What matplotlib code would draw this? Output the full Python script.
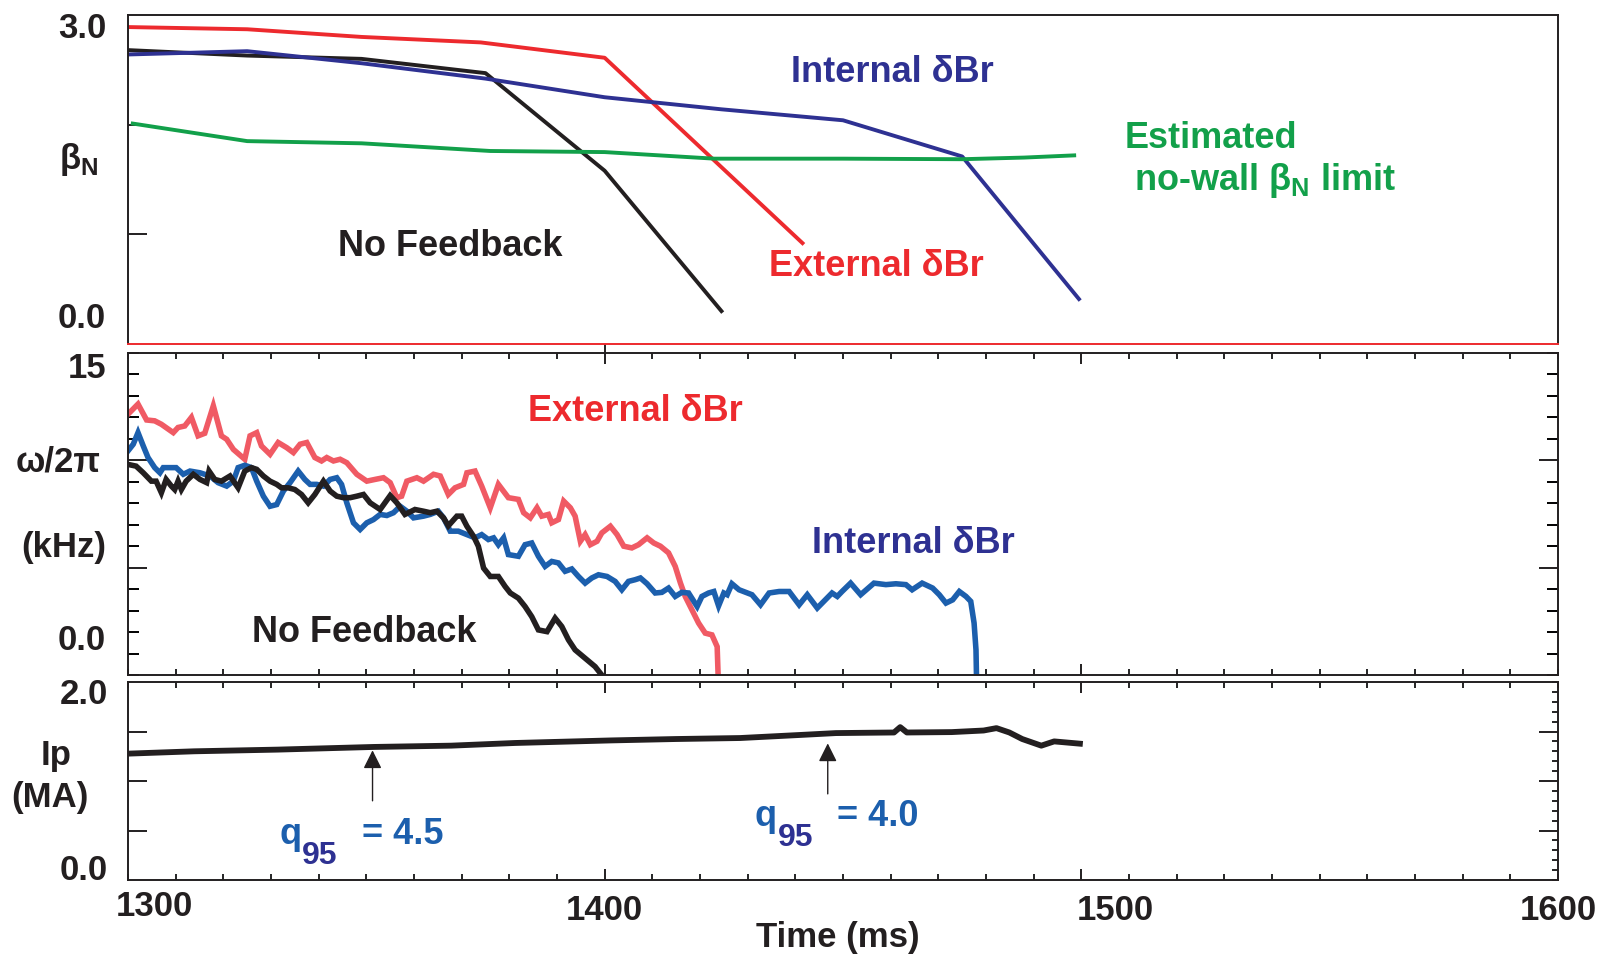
import matplotlib
matplotlib.use("Agg")
import matplotlib.pyplot as plt
from matplotlib import font_manager
from matplotlib.ticker import MultipleLocator

# ── font: condensed bold sans ────────────────────────────────────────────────
installed = {f.name for f in font_manager.fontManager.ttflist}
FONT = "Liberation Sans Narrow" if "Liberation Sans Narrow" in installed else "Liberation Sans"
plt.rcParams["font.family"] = [FONT, "DejaVu Sans"]
plt.rcParams["font.weight"] = "bold"

W, H = 1602, 960
FS_NOTE = 26   # annotations inside the panels
FS_TICK = 25   # numbers and axis labels

# ── colours ──────────────────────────────────────────────────────────────────
C_RED = "#ed2a2e"
C_BLUE = "#2e3192"
C_GREEN = "#12a04a"
C_BLACK = "#231f20"
C_PINK = "#f05a64"
C_MBLUE = "#1c5fad"

# ── panel 1: beta_N ──────────────────────────────────────────────────────────
t_beta_ext = [1300, 1325, 1349, 1374, 1400, 1441.5]
beta_ext = [2.89, 2.87, 2.80, 2.75, 2.61, 0.92]
t_beta_nofb = [1300, 1325, 1349, 1375, 1400, 1424.5]
beta_nofb = [2.68, 2.63, 2.60, 2.47, 1.58, 0.30]
t_beta_int = [1300, 1325, 1349, 1375, 1400, 1424.5, 1450, 1475, 1499.5]
beta_int = [2.64, 2.67, 2.56, 2.42, 2.25, 2.14, 2.04, 1.71, 0.41]
t_limit = [1301, 1325, 1349, 1376, 1400, 1423, 1450, 1475, 1488, 1498.5]
beta_limit = [2.01, 1.85, 1.83, 1.76, 1.75, 1.69, 1.69, 1.685, 1.70, 1.72]

# ── panel 2: rotation frequency (kHz) ───────────────────────────────────────
t_f_ext = [1300.0, 1302.1, 1303.9, 1305.6, 1307.0, 1309.5, 1310.5, 1311.9, 1313.3, 1314.7,
           1316.1, 1317.9, 1319.6, 1320.7, 1322.1, 1324.5, 1325.6, 1327.0, 1328.0, 1329.8,
           1331.5, 1333.3, 1334.7, 1336.1, 1337.5, 1339.2, 1340.6, 1341.7, 1343.1, 1344.5,
           1345.9, 1348.0, 1350.1, 1351.8, 1353.6, 1355.0, 1356.4, 1357.4, 1358.5, 1360.6,
           1362.0, 1364.1, 1365.5, 1367.2, 1368.6, 1370.4, 1371.1, 1372.8, 1374.2, 1376.0,
           1377.7, 1379.8, 1381.9, 1383.0, 1384.4, 1385.8, 1386.8, 1388.2, 1388.9, 1390.3,
           1391.4, 1392.8, 1393.8, 1394.9, 1395.9, 1397.0, 1398.4, 1399.4, 1401.2, 1402.6,
           1404.0, 1405.7, 1407.1, 1408.9, 1410.3, 1411.7, 1413.4, 1414.8, 1415.9, 1416.9,
           1418.3, 1419.7, 1421.1, 1422.5, 1423.6, 1423.8]
f_ext = [12.15, 12.62, 11.88, 11.84, 11.68, 11.29, 11.53, 11.60, 12.00, 11.14,
         11.26, 12.54, 11.14, 10.98, 10.51, 10.05, 11.14, 11.29, 10.67, 10.28,
         10.83, 10.59, 10.36, 10.75, 10.83, 10.13, 9.97, 10.13, 9.97, 10.05,
         9.89, 9.35, 9.03, 9.11, 9.19, 8.96, 8.26, 8.33, 9.03, 9.19,
         9.03, 9.35, 9.27, 8.41, 8.72, 8.88, 9.42, 9.50, 8.80, 7.79,
         8.88, 8.26, 8.18, 7.56, 7.32, 7.79, 7.40, 7.48, 7.09, 7.24,
         8.10, 7.79, 7.40, 6.23, 6.54, 6.07, 6.23, 6.62, 6.93, 6.54,
         6.00, 5.92, 6.07, 6.39, 6.15, 6.00, 5.69, 5.06, 4.28, 3.66,
         3.04, 2.42, 1.95, 1.87, 1.32, 0.0]

t_f_int = [1300.0, 1301.1, 1302.1, 1303.2, 1304.2, 1305.6, 1306.7, 1307.4, 1310.1, 1311.6,
           1313.0, 1315.1, 1317.2, 1318.9, 1320.7, 1322.1, 1323.1, 1324.5, 1325.9, 1327.0,
           1328.4, 1329.8, 1331.2, 1332.6, 1334.0, 1335.7, 1337.1, 1338.2, 1339.6, 1341.0,
           1342.4, 1343.8, 1344.8, 1345.9, 1347.3, 1348.7, 1350.1, 1351.5, 1352.9, 1354.3,
           1355.7, 1357.1, 1358.5, 1359.9, 1362.0, 1363.4, 1365.1, 1366.2, 1367.6, 1369.3,
           1371.1, 1372.8, 1374.2, 1375.6, 1376.7, 1377.7, 1378.8, 1379.8, 1381.9, 1383.3,
           1384.7, 1386.1, 1387.5, 1388.9, 1390.3, 1391.7, 1393.1, 1394.5, 1395.9, 1397.3,
           1398.7, 1400.5, 1402.2, 1403.6, 1405.0, 1406.4, 1407.5, 1408.9, 1410.6, 1412.0,
           1413.4, 1414.8, 1416.2, 1417.6, 1419.4, 1420.4, 1421.8, 1422.9, 1423.9, 1425.0,
           1425.7, 1426.7, 1428.2, 1430.9, 1432.7, 1434.5, 1436.6, 1438.7, 1440.8, 1442.5,
           1444.6, 1447.7, 1448.8, 1449.8, 1451.6, 1453.7, 1456.5, 1459.0, 1461.1, 1463.2,
           1464.5, 1466.6, 1468.8, 1470.2, 1471.6, 1473.0, 1474.4, 1475.8, 1476.8, 1477.5,
           1477.9, 1478.0]
f_int = [10.44, 10.75, 11.29, 10.67, 10.13, 9.66, 9.42, 9.66, 9.66, 9.35,
         9.50, 9.42, 9.27, 8.96, 8.80, 9.03, 9.66, 9.77, 9.66, 9.03,
         8.33, 7.86, 7.94, 8.57, 8.96, 9.50, 9.11, 8.88, 8.88, 8.80,
         9.11, 9.19, 8.88, 8.02, 7.09, 6.78, 7.09, 7.24, 7.48, 7.43,
         7.56, 7.86, 7.63, 7.32, 7.40, 7.48, 7.63, 7.32, 6.70, 6.70,
         6.54, 6.39, 6.54, 6.31, 6.39, 6.07, 6.39, 5.61, 5.53, 6.07,
         6.15, 5.53, 5.06, 5.29, 5.22, 4.83, 4.94, 4.59, 4.28, 4.52,
         4.67, 4.59, 4.36, 3.97, 4.36, 4.44, 4.52, 4.25, 3.82, 3.85,
         4.05, 3.66, 3.85, 3.82, 3.19, 3.66, 3.82, 3.89, 3.22, 3.82,
         3.74, 4.25, 3.97, 3.74, 3.27, 3.82, 3.89, 3.89, 3.27, 3.74,
         3.12, 3.82, 3.66, 3.89, 4.28, 3.74, 4.28, 4.21, 4.25, 4.21,
         3.97, 4.28, 4.05, 3.74, 3.35, 3.50, 3.89, 3.66, 3.43, 2.42,
         1.17, 0.0]

t_f_nofb = [1300.0, 1301.7, 1303.2, 1304.9, 1305.9, 1307.0, 1308.0, 1309.1, 1309.8, 1310.5,
            1311.2, 1312.2, 1313.7, 1315.1, 1316.5, 1317.0, 1318.2, 1319.6, 1321.4, 1323.1,
            1324.5, 1325.9, 1327.0, 1328.4, 1329.8, 1331.2, 1332.2, 1333.6, 1335.0, 1336.4,
            1337.8, 1339.2, 1341.0, 1342.4, 1343.8, 1345.2, 1346.6, 1348.0, 1349.4, 1350.8,
            1352.9, 1355.0, 1356.4, 1358.1, 1360.2, 1362.0, 1363.4, 1364.8, 1366.2, 1367.2,
            1369.0, 1370.0, 1371.1, 1372.5, 1373.5, 1374.6, 1376.0, 1377.7, 1379.1, 1380.2,
            1381.9, 1383.3, 1384.7, 1386.1, 1387.9, 1389.6, 1391.0, 1392.4, 1393.8, 1395.9,
            1398.0, 1399.1]
f_nofb = [9.81, 9.73, 9.42, 9.03, 9.03, 8.49, 9.11, 8.80, 8.64, 9.03,
          8.64, 9.03, 9.35, 9.11, 8.96, 9.50, 9.11, 9.03, 9.27, 8.72,
          9.50, 9.66, 9.58, 9.27, 9.03, 8.88, 8.72, 8.72, 8.64, 8.41,
          8.02, 8.41, 9.03, 8.57, 8.33, 8.26, 8.26, 8.33, 8.41, 8.02,
          7.71, 8.36, 8.02, 7.48, 7.71, 7.63, 7.56, 7.63, 7.32, 6.95,
          7.40, 7.40, 6.93, 6.46, 6.00, 4.98, 4.59, 4.59, 4.13, 3.82,
          3.58, 3.19, 2.72, 2.10, 2.02, 2.65, 2.26, 1.64, 1.17, 0.78,
          0.39, 0.08]

# ── panel 3: plasma current (MA) ────────────────────────────────────────────
t_ip = [1300.4, 1313.9, 1331.4, 1351.6, 1367.8, 1381.2, 1401.4, 1414.9, 1428.4, 1441.8,
        1448.5, 1460.7, 1462.0, 1463.4, 1472.8, 1479.5, 1482.2, 1484.9, 1487.6, 1491.6,
        1494.3, 1499.7]
ip = [1.277, 1.300, 1.317, 1.344, 1.357, 1.384, 1.410, 1.424, 1.434, 1.467,
      1.484, 1.490, 1.544, 1.490, 1.494, 1.510, 1.534, 1.490, 1.424, 1.357,
      1.400, 1.377]

# q95 markers: arrow time, tail, tip; label start time and height
q95_t = [1351.3, 1446.8]
q95_tail = [0.80, 0.87]
q95_tip = [1.31, 1.38]
q95_label_t = [1331.7, 1431.5]
q95_label_y = [0.46, 0.64]
q95_val = ["= 4.5", "= 4.0"]

# ── figure ───────────────────────────────────────────────────────────────────
fig = plt.figure(figsize=(W / 100, H / 100), dpi=100)


def frac(x0, y0, x1, y1):
    return [x0 / W, 1 - y1 / H, (x1 - x0) / W, (y1 - y0) / H]


def px(x, y):
    return x / W, 1 - y / H


ax1 = fig.add_axes(frac(128, 15, 1558, 344))
ax2 = fig.add_axes(frac(128, 353, 1558, 675))
ax3 = fig.add_axes(frac(128, 682, 1558, 880))

for ax in (ax1, ax2, ax3):
    ax.set_xlim(1300, 1600)
    for sp in ax.spines.values():
        sp.set_linewidth(1.4)
        sp.set_color(C_BLACK)
    ax.tick_params(labelleft=False, labelbottom=False, colors=C_BLACK, width=1.4)

# panel 1
ax1.set_ylim(0, 3)
ax1.spines["bottom"].set_color(C_RED)
ax1.plot(t_beta_ext, beta_ext, color=C_RED, lw=2.8)
ax1.plot(t_beta_nofb, beta_nofb, color=C_BLACK, lw=2.8)
ax1.plot(t_beta_int, beta_int, color=C_BLUE, lw=2.8)
ax1.plot(t_limit, beta_limit, color=C_GREEN, lw=2.8)
ax1.set_yticks([1, 2])
ax1.tick_params(axis="y", direction="in", length=14)
ax1.set_xticks([1400])
ax1.tick_params(axis="x", direction="out", length=8)

ax1.text(1439, 2.48, "Internal δBr", color=C_BLUE, fontsize=FS_NOTE, va="center")
ax1.text(1509, 1.87, "Estimated", color=C_GREEN, fontsize=FS_NOTE, va="center")
ax1.text(1511, 1.49, "no-wall β$_\\mathregular{N}$ limit", color=C_GREEN, fontsize=FS_NOTE, va="center")
ax1.text(1344, 0.89, "No Feedback", color=C_BLACK, fontsize=FS_NOTE, va="center")
ax1.text(1434.5, 0.71, "External δBr", color=C_RED, fontsize=FS_NOTE, va="center")

# panel 2
ax2.set_ylim(0, 15)
ax2.plot(t_f_ext, f_ext, color=C_PINK, lw=4.0, solid_joinstyle="miter")
ax2.plot(t_f_int, f_int, color=C_MBLUE, lw=4.0, solid_joinstyle="miter")
ax2.plot(t_f_nofb, f_nofb, color=C_BLACK, lw=4.0, solid_joinstyle="miter")
ax2.set_yticks([5, 10])
ax2.yaxis.set_minor_locator(MultipleLocator(1))
ax2.set_xticks([1400, 1500])
ax2.xaxis.set_minor_locator(MultipleLocator(10))
ax2.tick_params(which="both", direction="in", left=True, right=True, top=True, bottom=True)
ax2.tick_params(axis="y", which="major", length=14)
ax2.tick_params(axis="y", which="minor", length=8, width=1.4)
ax2.tick_params(axis="x", which="major", length=8)
ax2.tick_params(axis="x", which="minor", length=4, width=1.2)

ax2.text(1384, 12.29, "External δBr", color=C_RED, fontsize=FS_NOTE, va="center")
ax2.text(1443.5, 6.12, "Internal δBr", color=C_BLUE, fontsize=FS_NOTE, va="center")
ax2.text(1326, 1.96, "No Feedback", color=C_BLACK, fontsize=FS_NOTE, va="center")

# panel 3
ax3.set_ylim(0, 2)
ax3.plot(t_ip, ip, color=C_BLACK, lw=4.2)
ax3.set_yticks([0.5, 1.0, 1.5])
ax3.yaxis.set_minor_locator(MultipleLocator(0.1))
ax3.set_xticks([1400, 1500])
ax3.xaxis.set_minor_locator(MultipleLocator(10))
ax3.tick_params(which="both", direction="in", top=True, bottom=True, right=True)
ax3.tick_params(axis="y", which="major", length=14)
ax3.tick_params(axis="y", which="minor", left=False, length=4, width=1.2)
ax3.tick_params(axis="x", which="major", length=8)
ax3.tick_params(axis="x", which="minor", length=4, width=1.2)

for t, tail, tip, lt, ly, val in zip(q95_t, q95_tail, q95_tip, q95_label_t, q95_label_y, q95_val):
    ax3.annotate("", xy=(t, tip), xytext=(t, tail),
                 arrowprops=dict(arrowstyle="-|>", color=C_BLACK, lw=1.0,
                                 mutation_scale=28, shrinkA=0, shrinkB=0))
    ax3.text(lt, ly, "q", color=C_MBLUE, fontsize=FS_NOTE, va="center")
    ax3.text(lt + 4.8, ly - 0.22, "95", color=C_BLUE, fontsize=FS_NOTE - 3, va="center")
    ax3.text(lt + 17.3, ly, val, color=C_MBLUE, fontsize=FS_NOTE, va="center")

# axis labels and tick numbers as placed in the original
lab = dict(color=C_BLACK, fontsize=FS_TICK)
fig.text(*px(106, 28), "3.0", ha="right", va="center", **lab)
fig.text(*px(106, 319), "0.0", ha="right", va="center", **lab)
fig.text(*px(106, 368), "15", ha="right", va="center", **lab)
fig.text(*px(106, 641), "0.0", ha="right", va="center", **lab)
fig.text(*px(108, 695), "2.0", ha="right", va="center", **lab)
fig.text(*px(108, 870), "0.0", ha="right", va="center", **lab)
fig.text(*px(154, 906), "1300", ha="center", va="center", **lab)
fig.text(*px(604, 911), "1400", ha="center", va="center", **lab)
fig.text(*px(1115, 911), "1500", ha="center", va="center", **lab)
fig.text(*px(1558, 911), "1600", ha="center", va="center", **lab)
fig.text(*px(838, 937), "Time (ms)", ha="center", va="center", **lab)

fig.text(*px(79, 160), "β$_\\mathregular{N}$", ha="center", va="center", **lab)
fig.text(*px(58, 462), "ω/2π", ha="center", va="center", **lab)
fig.text(*px(64, 548), "(kHz)", ha="center", va="center", **lab)
fig.text(*px(56, 756), "Ip", ha="center", va="center", **lab)
fig.text(*px(50, 797), "(MA)", ha="center", va="center", **lab)

fig.savefig("out.png", dpi=100)
